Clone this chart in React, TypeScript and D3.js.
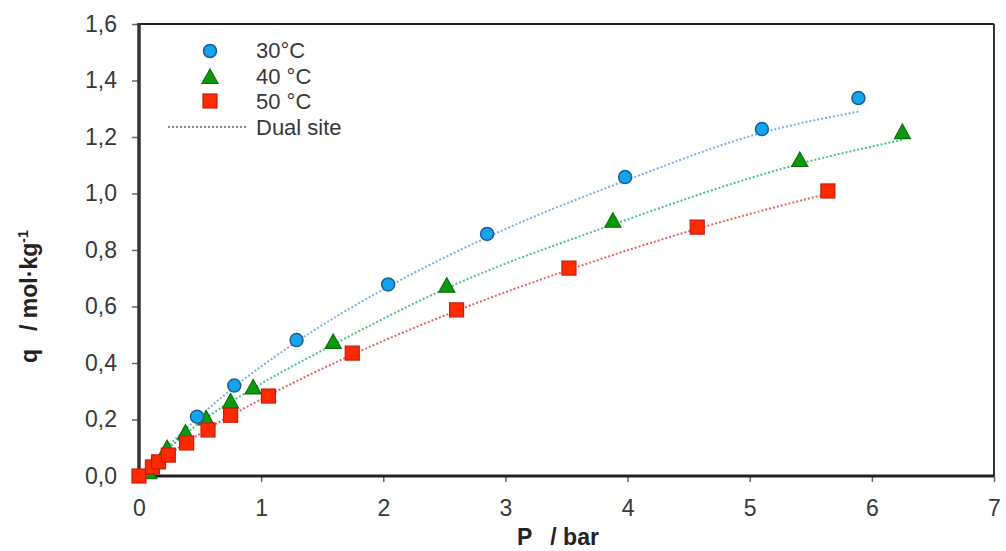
import React, { useEffect, useRef } from 'react';
import * as d3 from 'd3';

// measured points (P in bar, q in mol/kg)
const p30 = [0.475, 0.78, 1.29, 2.04, 2.85, 3.98, 5.1, 5.89];
const q30 = [0.21, 0.32, 0.481, 0.678, 0.857, 1.058, 1.228, 1.338];
const p40 = [0.08, 0.23, 0.38, 0.55, 0.75, 0.935, 1.59, 2.52, 3.88, 5.41, 6.25];
const q40 = [0.01, 0.095, 0.15, 0.2, 0.26, 0.31, 0.471, 0.67, 0.9, 1.115, 1.214];
const p50 = [0.0, 0.11, 0.16, 0.24, 0.39, 0.565, 0.75, 1.06, 1.746, 2.6, 3.52, 4.57, 5.64];
const q50 = [0.0, 0.032, 0.05, 0.074, 0.117, 0.163, 0.215, 0.283, 0.435, 0.588, 0.736, 0.881, 1.009];

// dual site fit curves
const fitP30 = [0, 0.48, 0.78, 1.29, 2.04, 2.85, 3.98, 5.1, 5.89];
const fitQ30 = [0, 0.205, 0.315, 0.475, 0.67, 0.845, 1.045, 1.215, 1.29];
const fitP40 = [0, 0.5, 0.935, 1.59, 2.52, 3.88, 5.41, 6.25];
const fitQ40 = [0, 0.19, 0.31, 0.465, 0.665, 0.89, 1.105, 1.19];
const fitP50 = [0, 0.5, 1.06, 1.75, 2.6, 3.52, 4.57, 5.64];
const fitQ50 = [0, 0.15, 0.285, 0.43, 0.585, 0.73, 0.875, 1.0];

const xTicks = [0, 1, 2, 3, 4, 5, 6, 7];
const yTicks = [0, 0.2, 0.4, 0.6, 0.8, 1.0, 1.2, 1.4, 1.6];
const legendLabels = ['30°C', '40 °C', '50 °C', 'Dual site'];

const App = () => {
  const svgRef = useRef(null);

  useEffect(() => {
    const svg = d3.select(svgRef.current);
    svg.selectAll('*').remove();
    const font = 'Liberation Sans, Arial, sans-serif';

    const left = 139, right = 994, top = 24, bottom = 476;
    const x = d3.scaleLinear().domain([0, 7]).range([left, right]);
    const y = d3.scaleLinear().domain([0, 1.6]).range([bottom, top]);

    // ticks
    const ya = svg.append('g').attr('transform', `translate(${left},0)`)
      .call(d3.axisLeft(y).tickValues(yTicks).tickSize(7).tickPadding(15)
        .tickFormat((d) => d3.format('.1f')(d).replace('.', ',')));
    ya.select('.domain').remove();
    ya.selectAll('line').attr('stroke', '#666').attr('stroke-width', 1.5);
    ya.selectAll('text').attr('font-size', 23).attr('font-family', font).attr('fill', '#383838');

    const xa = svg.append('g').attr('transform', `translate(0,${bottom})`)
      .call(d3.axisBottom(x).tickValues(xTicks).tickSize(6).tickPadding(18).tickFormat(d3.format('d')));
    xa.select('.domain').remove();
    xa.selectAll('line').attr('stroke', '#666').attr('stroke-width', 1.5);
    xa.selectAll('text').attr('font-size', 23).attr('font-family', font).attr('fill', '#383838');

    // frame
    svg.append('line').attr('x1', left).attr('x2', right).attr('y1', top).attr('y2', top)
      .attr('stroke', '#222').attr('stroke-width', 2);
    svg.append('line').attr('x1', right).attr('x2', right).attr('y1', top).attr('y2', bottom)
      .attr('stroke', '#333').attr('stroke-width', 2);
    svg.append('line').attr('x1', left).attr('x2', left).attr('y1', top - 1).attr('y2', bottom + 1)
      .attr('stroke', '#333').attr('stroke-width', 3.5);
    svg.append('line').attr('x1', left - 1).attr('x2', right).attr('y1', bottom).attr('y2', bottom)
      .attr('stroke', '#222').attr('stroke-width', 3);

    const line = d3.line().x((d) => x(d[0])).y((d) => y(d[1])).curve(d3.curveMonotoneX);
    const fits = [
      { p: fitP30, q: fitQ30, c: '#7aaee8' },
      { p: fitP40, q: fitQ40, c: '#4cc080' },
      { p: fitP50, q: fitQ50, c: '#e06464' },
    ];
    fits.forEach((f) => {
      svg.append('path').attr('d', line(f.p.map((v, i) => [v, f.q[i]])))
        .attr('fill', 'none').attr('stroke', f.c).attr('stroke-width', 2)
        .attr('stroke-dasharray', '2,2');
    });

    const circle = (g, cx, cy) => g.append('circle').attr('cx', cx).attr('cy', cy).attr('r', 6.5)
      .attr('fill', '#14a4ec').attr('stroke', '#1b5c9a').attr('stroke-width', 1.5);
    const tri = (g, cx, cy) => g.append('path')
      .attr('d', `M${cx},${cy - 9}L${cx + 8},${cy + 5.5}L${cx - 8},${cy + 5.5}Z`)
      .attr('fill', '#0a9a0a').attr('stroke', '#0b6e0b').attr('stroke-width', 1.2);
    const sq = (g, cx, cy) => g.append('rect').attr('x', cx - 7).attr('y', cy - 7)
      .attr('width', 14).attr('height', 14)
      .attr('fill', '#ff2a00').attr('stroke', '#c81a10').attr('stroke-width', 1.2);

    const marks = svg.append('g');
    p40.forEach((v, i) => tri(marks, x(v), y(q40[i])));
    p30.forEach((v, i) => circle(marks, x(v), y(q30[i])));
    p50.forEach((v, i) => sq(marks, x(v), y(q50[i])));

    // legend
    const lg = svg.append('g');
    circle(lg, 210, 51);
    tri(lg, 210, 78);
    sq(lg, 210, 101);
    lg.append('line').attr('x1', 168).attr('x2', 247).attr('y1', 127).attr('y2', 127)
      .attr('stroke', '#888').attr('stroke-width', 2).attr('stroke-dasharray', '2,2');
    legendLabels.forEach((t, i) => {
      lg.append('text').attr('x', 256).attr('y', [50, 76, 101, 127][i]).attr('dy', '0.35em')
        .attr('font-size', 22).attr('font-family', font).attr('fill', '#383838').text(t);
    });

    // axis titles
    const xt = svg.append('text').attr('x', 517).attr('y', 545)
      .attr('font-size', 23).attr('font-weight', 'bold').attr('font-family', font).attr('fill', '#222');
    xt.append('tspan').text('P');
    xt.append('tspan').attr('dx', 18).text('/ bar');

    const yt = svg.append('text').attr('transform', 'translate(37,363) rotate(-90)')
      .attr('font-size', 23).attr('font-weight', 'bold').attr('font-family', font).attr('fill', '#222');
    yt.append('tspan').text('q');
    yt.append('tspan').attr('dx', 18).text('/ mol·kg');
    yt.append('tspan').attr('dy', -9).attr('font-size', 14).text('-1');
  }, []);

  return (
    <svg ref={svgRef} width={1006} height={551}
      style={{ position: 'absolute', left: 0, top: 0, background: '#fff' }} />
  );
};

export default App;
